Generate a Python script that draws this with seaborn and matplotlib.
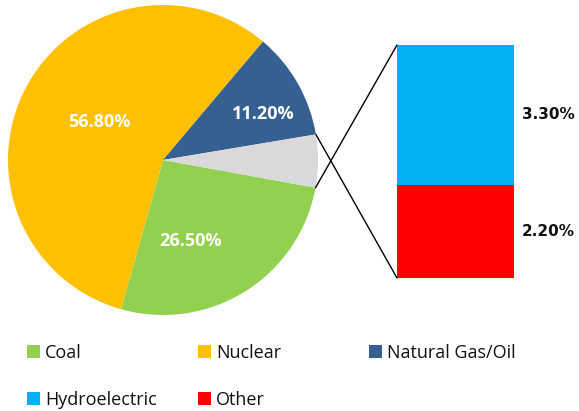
import numpy as np
import matplotlib
matplotlib.use("Agg")
import matplotlib.pyplot as plt
from matplotlib.patches import ConnectionPatch, Patch
import seaborn as sns

sns.set_theme(style="white")
plt.rcParams['font.family'] = ['Open Sans', 'DejaVu Sans']

# pie data
pie_labels = ["Coal", "Nuclear", "Natural Gas/Oil", "Hydroelectric + Other"]
pie_values = [26.5, 56.8, 11.2, 5.5]
pie_colors = ["#92D050", "#FFC000", "#376092", "#D9D9D9"]
pie_text = ["26.50%", "56.80%", "11.20%", ""]

# bar (breakdown of the grey slice)
bar_labels = ["Other", "Hydroelectric"]
bar_values = [2.2, 3.3]
bar_colors = ["#FF0000", "#00B0F0"]
bar_text = ["2.20%", "3.30%"]

fig = plt.figure(figsize=(5.79, 4.11), dpi=100)

# pie
ax1 = fig.add_axes([8 / 579, 96 / 411, 310 / 579, 310 / 411])
grey_angle = pie_values[3] / sum(pie_values) * 360
wedges, _ = ax1.pie(pie_values, colors=pie_colors, startangle=-grey_angle / 2 - 0.4,
                    counterclock=False, radius=1, wedgeprops=dict(linewidth=0))
ax1.set_xlim(-1, 1)
ax1.set_ylim(-1, 1)
ax1.axis("off")

# label radius and angle shift per wedge
lab_r = [0.55, 0.48, 0.71]
lab_shift = [-13, -3, -5]
for w, txt, r, s in zip(wedges, pie_text, lab_r, lab_shift):
    ang = np.deg2rad((w.theta1 + w.theta2) / 2 + s)
    ax1.text(r * np.cos(ang), r * np.sin(ang), txt, color="white", fontsize=13,
             fontweight="bold", ha="center", va="center")

# bar
ax2 = fig.add_axes([397 / 579, 133 / 411, 117 / 579, 233 / 411])
bottom = 0
for lab, val, col, txt in zip(bar_labels, bar_values, bar_colors, bar_text):
    ax2.bar(0, val, bottom=bottom, color=col, width=1, linewidth=0)
    ax2.text(0.57, bottom + val / 2, txt, fontsize=11, fontweight="bold",
             family="DejaVu Sans", ha="left", va="center", color="#111111")
    bottom += val
ax2.set_xlim(-0.5, 0.5)
ax2.set_ylim(0, sum(bar_values))
ax2.axis("off")

# connector lines
g = wedges[3]
for theta, yb in [(g.theta1, sum(bar_values)), (g.theta2, 0)]:
    t = np.deg2rad(theta)
    con = ConnectionPatch(xyA=(np.cos(t), np.sin(t)), coordsA=ax1.transData,
                          xyB=(-0.5, yb), coordsB=ax2.transData,
                          color="black", linewidth=1)
    fig.add_artist(con)

# legend, one column at a time
leg_cols = [
    (["Coal", "Hydroelectric"], ["#92D050", "#00B0F0"], 27),
    (["Nuclear", "Other"], ["#FFC000", "#FF0000"], 198),
    (["Natural Gas/Oil"], ["#376092"], 369),
]
for labs, cols, x in leg_cols:
    handles = [Patch(facecolor=c, edgecolor="none") for c in cols]
    fig.legend(handles, labs, loc="upper left", bbox_to_anchor=(x / 579, 1 - 344 / 411),
               frameon=False, fontsize=13, handlelength=0.7, handleheight=0.7,
               handletextpad=0.3, labelspacing=1.6, borderpad=0, borderaxespad=0,
               labelcolor="#111111")

fig.savefig("out.png", dpi=100)
